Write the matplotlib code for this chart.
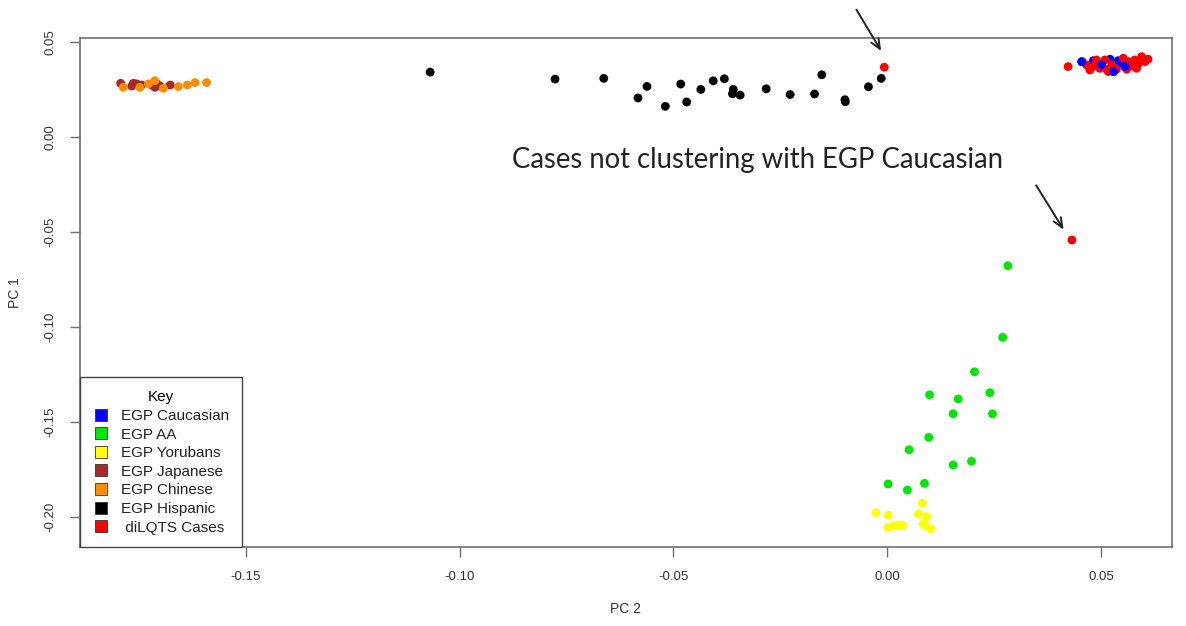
import matplotlib
matplotlib.use('Agg')
import matplotlib.pyplot as plt
from matplotlib.lines import Line2D

# PCA scores (PC 2 on x, PC 1 on y)
hispanic_pc2 = [-0.1069, -0.0777, -0.0663, -0.0583, -0.0562, -0.0519, -0.0483, -0.0469,
                -0.0436, -0.0407, -0.0381, -0.0360, -0.0362, -0.0344, -0.0283, -0.0227,
                -0.0170, -0.0153, -0.0099, -0.0098, -0.0044, -0.0014]
hispanic_pc1 = [0.0340, 0.0303, 0.0307, 0.0204, 0.0265, 0.0160, 0.0277, 0.0183,
                0.0249, 0.0294, 0.0305, 0.0249, 0.0226, 0.0219, 0.0252, 0.0222,
                0.0225, 0.0326, 0.0195, 0.0184, 0.0263, 0.0307]

japanese_pc2 = [-0.1793, -0.1767, -0.1763, -0.1755, -0.1744, -0.1720, -0.1709, -0.1701,
                -0.1713, -0.1677]
japanese_pc1 = [0.0281, 0.0267, 0.0281, 0.0278, 0.0272, 0.0272, 0.0281, 0.0267,
                0.0260, 0.0272]

chinese_pc2 = [-0.1787, -0.1748, -0.1713, -0.1693, -0.1658, -0.1637, -0.1619, -0.1592, -0.1728]
chinese_pc1 = [0.0260, 0.0260, 0.0295, 0.0255, 0.0264, 0.0272, 0.0285, 0.0285, 0.0278]

aa_pc2 = [0.0282, 0.0270, 0.0204, 0.0099, 0.0166, 0.0240, 0.0154, 0.0246,
          0.0097, 0.0051, 0.0154, 0.0197, 0.0002, 0.0047, 0.0087]
aa_pc1 = [-0.0678, -0.1055, -0.1236, -0.1357, -0.1379, -0.1346, -0.1457, -0.1457,
          -0.1581, -0.1646, -0.1726, -0.1707, -0.1826, -0.1858, -0.1823]

yoruba_pc2 = [-0.0026, 0.0002, 0.0082, 0.0073, 0.0092, 0.0084, 0.0001, 0.0014,
              0.0026, 0.0036, 0.0101, 0.0088]
yoruba_pc1 = [-0.1977, -0.1991, -0.1926, -0.1984, -0.1998, -0.2037, -0.2054, -0.2047,
              -0.2042, -0.2044, -0.2062, -0.2044]

caucasian_pc2 = [0.0455, 0.0482, 0.0501, 0.0521, 0.0529, 0.0548, 0.0556, 0.0540]
caucasian_pc1 = [0.0395, 0.0400, 0.0378, 0.0408, 0.0343, 0.0387, 0.0369, 0.0400]

cases_pc2 = [0.0466, 0.0474, 0.0486, 0.0497, 0.0509, 0.0513, 0.0525, 0.0536,
             0.0552, 0.0564, 0.0572, 0.0579, 0.0587, 0.0595, 0.0603, 0.0610,
             0.0583, 0.0489, 0.0517, 0.0560, 0.0423, -0.0007, 0.0432]
cases_pc1 = [0.0378, 0.0351, 0.0372, 0.0360, 0.0404, 0.0355, 0.0378, 0.0355,
             0.0413, 0.0395, 0.0372, 0.0404, 0.0383, 0.0421, 0.0395, 0.0408,
             0.0360, 0.0404, 0.0343, 0.0355, 0.0369, 0.0366, -0.0543]

x_ticks = [-0.15, -0.10, -0.05, 0.00, 0.05]
y_ticks = [0.05, 0.00, -0.05, -0.10, -0.15, -0.20]

COLORS = {
    'EGP Caucasian': '#0000ff',
    'EGP AA': '#00e600',
    'EGP Yorubans': '#ffff00',
    'EGP Japanese': '#a52a2a',
    'EGP Chinese': '#ff8c00',
    'EGP Hispanic': '#000000',
    ' diLQTS Cases': '#ff0000',
}

# annotation arrows (tail, head) in data coords
arrow_top = ((-0.00755, 0.0681), (-0.00108, 0.0439))
arrow_low = ((0.0345, -0.0243), (0.0416, -0.0501))

fig = plt.figure(figsize=(11.86, 6.26), dpi=100)
ax = fig.add_axes([0.06745, 0.1254, 0.92074, 0.81438])

pt = 40
ax.scatter(hispanic_pc2, hispanic_pc1, s=pt, color=COLORS['EGP Hispanic'], edgecolors='none')
ax.scatter(japanese_pc2, japanese_pc1, s=pt, color=COLORS['EGP Japanese'], edgecolors='none')
ax.scatter(chinese_pc2, chinese_pc1, s=pt, color=COLORS['EGP Chinese'], edgecolors='none')
ax.scatter(aa_pc2, aa_pc1, s=pt, color=COLORS['EGP AA'], edgecolors='none')
ax.scatter(yoruba_pc2, yoruba_pc1, s=pt, color=COLORS['EGP Yorubans'], edgecolors='none')
ax.scatter(caucasian_pc2, caucasian_pc1, s=pt, color=COLORS['EGP Caucasian'], edgecolors='none')
ax.scatter(cases_pc2, cases_pc1, s=pt, color=COLORS[' diLQTS Cases'], edgecolors='none')
# some blue points sit on top of the red ones
ax.scatter(caucasian_pc2[::2], caucasian_pc1[::2], s=pt, color=COLORS['EGP Caucasian'], edgecolors='none')

ax.set_xlim(-0.1888, 0.0666)
ax.set_ylim(-0.2160, 0.0521)
ax.set_xticks(x_ticks)
ax.set_xticklabels([f'{t:.2f}' for t in x_ticks])
ax.set_yticks(y_ticks)
ax.set_yticklabels([f'{t:.2f}' for t in y_ticks], rotation=90, va='center')

frame_col = '#6e6e6e'
for sp in ax.spines.values():
    sp.set_color(frame_col)
    sp.set_linewidth(1.2)
ax.tick_params(axis='both', length=7, width=1.0, color=frame_col,
               labelsize=9.5, labelcolor='#333333', pad=10)
for lab in ax.get_xticklabels() + ax.get_yticklabels():
    lab.set_fontfamily('Liberation Sans')

fig.text(626 / 1186, 1 - 609 / 626, 'PC 2', ha='center', va='center',
         fontsize=10, color='#333333', family='Liberation Sans')
fig.text(15 / 1186, 1 - 293 / 626, 'PC 1', ha='center', va='center', rotation=90,
         fontsize=10, color='#333333', family='Liberation Sans')

ax.text(-0.0304, -0.0122, 'Cases not clustering with EGP Caucasian', ha='center', va='center',
        fontsize=19.8, color='#222222', family='Lato')
for tail, head in (arrow_top, arrow_low):
    ax.annotate('', xy=head, xytext=tail, annotation_clip=False,
                arrowprops=dict(arrowstyle='->,head_length=0.7,head_width=0.3',
                                lw=1.4, color='#222222'))

handles = [Line2D([], [], linestyle='none', marker='s', markersize=8.5,
                  markerfacecolor=c, markeredgecolor='#333333', markeredgewidth=0.6,
                  label=name) for name, c in COLORS.items()]
leg = ax.legend(handles=handles, title='Key', loc='lower left', bbox_to_anchor=(0, 0),
                borderaxespad=0, fancybox=False, framealpha=1, edgecolor='#444444',
                prop={'family': 'Liberation Sans', 'size': 11}, title_fontsize=11,
                handlelength=1.0, handletextpad=0.85, borderpad=0.85, labelspacing=0.3)
leg.get_frame().set_linewidth(1.0)
leg.get_title().set_fontfamily('Liberation Sans')
for t in leg.get_texts():
    t.set_color('#222222')

plt.savefig('out.png', dpi=100)
